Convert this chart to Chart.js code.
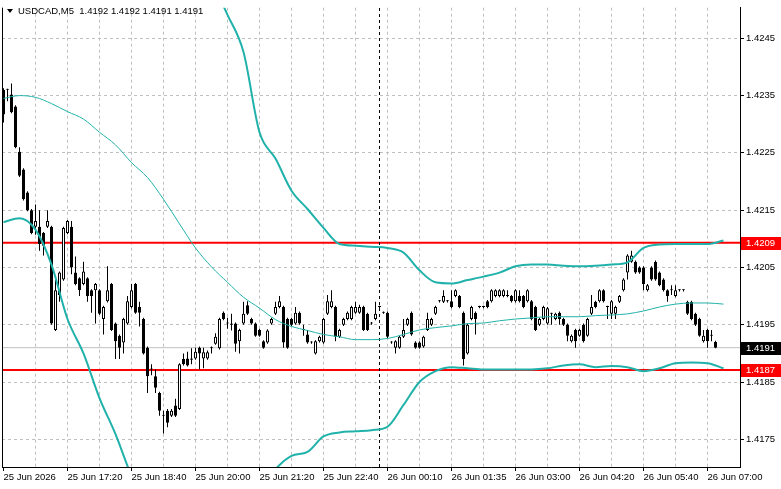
<!DOCTYPE html>
<html>
<head>
<meta charset="utf-8">
<script src="https://cdn.jsdelivr.net/npm/chart.js@4.4.1/dist/chart.umd.min.js"></script>
<style>
  html, body { margin: 0; padding: 0; background: #fff; }
  canvas { display: block; }
</style>
</head>
<body>
<canvas id="chart" width="781" height="489"></canvas>
<script>
// USDCAD M5, one entry per bar (bar 0 = 25 Jun 16:00)
const symbol = "USDCAD,M5";

const opens = [
  1.42360, 1.42360, 1.42352, 1.42331, 1.42252, 1.42221, 1.42181, 1.42150, 1.42121, 1.42121,
  1.42110, 1.42121, 1.42121, 1.41941, 1.42002, 1.42029, 1.42110, 1.42121, 1.42041, 1.42031,
  1.42021, 1.42031, 1.42010, 1.42010, 1.42010, 1.41960, 1.41991, 1.42021, 1.41952, 1.41931,
  1.41919, 1.41952, 1.41981, 1.42021, 1.41981, 1.41960, 1.41910, 1.41872, 1.41860, 1.41831,
  1.41791, 1.41800, 1.41791, 1.41809, 1.41803, 1.41890, 1.41891, 1.41889, 1.41891, 1.41910,
  1.41891, 1.41891, 1.41909, 1.41917, 1.41909, 1.41971, 1.41952, 1.41950, 1.41952, 1.41921,
  1.41952, 1.41984, 1.41960, 1.41952, 1.41941, 1.41921, 1.41919, 1.41952, 1.41969, 1.41981,
  1.41981, 1.41960, 1.41960, 1.41952, 1.41971, 1.41941, 1.41933, 1.41919, 1.41900, 1.41921,
  1.41919, 1.41969, 1.41981, 1.41981, 1.41929, 1.41950, 1.41960, 1.41960, 1.41971, 1.41971,
  1.41981, 1.41969, 1.41952, 1.41960, 1.41981, 1.41971, 1.41971, 1.41919, 1.41910, 1.41910,
  1.41929, 1.41950, 1.41971, 1.41919, 1.41919, 1.41912, 1.41941, 1.41950, 1.41969, 1.41991,
  1.41990, 1.41991, 1.41991, 1.42000, 1.42000, 1.41971, 1.41900, 1.41960, 1.41971, 1.41981,
  1.41981, 1.41991, 1.41991, 1.42000, 1.42000, 1.42000, 1.42000, 1.42000, 1.41991, 1.42000,
  1.42000, 1.41991, 1.41991, 1.41981, 1.41950, 1.41960, 1.41952, 1.41969, 1.41960, 1.41971,
  1.41960, 1.41950, 1.41921, 1.41941, 1.41931, 1.41950, 1.41931, 1.41969, 1.41990, 1.41991,
  1.42010, 1.41981, 1.41969, 1.41969, 1.41990, 1.42010, 1.42041, 1.42060, 1.42060, 1.42050,
  1.42050, 1.42010, 1.42050, 1.42060, 1.42041, 1.42029, 1.42010, 1.42010, 1.42000, 1.42010,
  1.42010, 1.41990, 1.41990, 1.41969, 1.41960, 1.41921, 1.41941, 1.41931, 1.41920
];
const highs = [
  1.42363, 1.42362, 1.42371, 1.42333, 1.42260, 1.42223, 1.42183, 1.42152, 1.42160, 1.42150,
  1.42112, 1.42150, 1.42123, 1.42033, 1.42043, 1.42121, 1.42133, 1.42131, 1.42069, 1.42033,
  1.42060, 1.42033, 1.42012, 1.42023, 1.42012, 1.41983, 1.42052, 1.42023, 1.41954, 1.41933,
  1.41962, 1.42000, 1.42021, 1.42023, 1.41990, 1.41962, 1.41912, 1.41881, 1.41872, 1.41833,
  1.41800, 1.41803, 1.41803, 1.41821, 1.41883, 1.41900, 1.41903, 1.41909, 1.41910, 1.41912,
  1.41910, 1.41905, 1.41912, 1.41935, 1.41962, 1.41973, 1.41962, 1.41969, 1.41954, 1.41943,
  1.41990, 1.41991, 1.41962, 1.41954, 1.41943, 1.41923, 1.41942, 1.41962, 1.41990, 1.42000,
  1.41983, 1.41962, 1.41962, 1.41981, 1.41973, 1.41950, 1.41941, 1.41921, 1.41923, 1.41931,
  1.41962, 1.42002, 1.42010, 1.41983, 1.41943, 1.41962, 1.41973, 1.41983, 1.41990, 1.41985,
  1.41983, 1.41971, 1.41955, 1.41990, 1.41983, 1.41973, 1.41973, 1.41921, 1.41923, 1.41931,
  1.41960, 1.41962, 1.41973, 1.41921, 1.41921, 1.41931, 1.41971, 1.41962, 1.41983, 1.41993,
  1.42010, 1.41993, 1.42010, 1.42012, 1.42002, 1.41973, 1.41952, 1.41983, 1.41973, 1.41983,
  1.41983, 1.41993, 1.42012, 1.42012, 1.42012, 1.42012, 1.42010, 1.42002, 1.42012, 1.42010,
  1.42002, 1.42012, 1.41993, 1.41983, 1.41962, 1.41983, 1.41981, 1.41971, 1.41971, 1.41973,
  1.41962, 1.41952, 1.41933, 1.41943, 1.41943, 1.41952, 1.41962, 1.42002, 1.41992, 1.42012,
  1.42012, 1.41983, 1.41993, 1.41983, 1.42002, 1.42031, 1.42073, 1.42079, 1.42062, 1.42052,
  1.42052, 1.42021, 1.42052, 1.42062, 1.42043, 1.42031, 1.42012, 1.42019, 1.42019, 1.42012,
  1.42012, 1.41992, 1.41992, 1.41971, 1.41962, 1.41941, 1.41943, 1.41941, 1.41922
];
const lows = [
  1.42303, 1.42340, 1.42319, 1.42258, 1.42208, 1.42167, 1.42148, 1.42108, 1.42107, 1.42079,
  1.42071, 1.42119, 1.41950, 1.41939, 1.41990, 1.42027, 1.42108, 1.42038, 1.42019, 1.42000,
  1.42019, 1.41990, 1.41971, 1.41952, 1.41967, 1.41933, 1.41989, 1.41939, 1.41890, 1.41890,
  1.41900, 1.41950, 1.41979, 1.41969, 1.41947, 1.41898, 1.41831, 1.41862, 1.41831, 1.41791,
  1.41760, 1.41771, 1.41789, 1.41789, 1.41801, 1.41879, 1.41877, 1.41881, 1.41889, 1.41872,
  1.41874, 1.41889, 1.41900, 1.41915, 1.41907, 1.41958, 1.41943, 1.41940, 1.41903, 1.41900,
  1.41950, 1.41967, 1.41950, 1.41929, 1.41929, 1.41908, 1.41917, 1.41950, 1.41967, 1.41979,
  1.41910, 1.41908, 1.41948, 1.41950, 1.41950, 1.41931, 1.41917, 1.41917, 1.41898, 1.41919,
  1.41917, 1.41967, 1.41979, 1.41921, 1.41927, 1.41948, 1.41958, 1.41958, 1.41969, 1.41969,
  1.41939, 1.41939, 1.41950, 1.41958, 1.41979, 1.41969, 1.41927, 1.41917, 1.41900, 1.41908,
  1.41927, 1.41948, 1.41931, 1.41908, 1.41908, 1.41910, 1.41939, 1.41948, 1.41967, 1.41989,
  1.41988, 1.41989, 1.41979, 1.41998, 1.41979, 1.41879, 1.41898, 1.41958, 1.41933, 1.41979,
  1.41979, 1.41979, 1.41989, 1.41998, 1.41998, 1.41998, 1.41998, 1.41989, 1.41989, 1.41989,
  1.41979, 1.41989, 1.41958, 1.41939, 1.41948, 1.41958, 1.41950, 1.41950, 1.41958, 1.41950,
  1.41948, 1.41921, 1.41919, 1.41910, 1.41929, 1.41919, 1.41929, 1.41967, 1.41979, 1.41989,
  1.41989, 1.41960, 1.41960, 1.41960, 1.41988, 1.42008, 1.42029, 1.42058, 1.42039, 1.42039,
  1.42010, 1.42008, 1.42027, 1.42027, 1.42017, 1.42008, 1.41990, 1.42002, 1.41998, 1.42008,
  1.42008, 1.41967, 1.41958, 1.41948, 1.41929, 1.41919, 1.41910, 1.41921, 1.41909
];
const closes = [
  1.42317, 1.42360, 1.42321, 1.42260, 1.42210, 1.42169, 1.42150, 1.42110, 1.42131, 1.42091,
  1.42088, 1.42131, 1.41952, 1.42010, 1.42041, 1.42119, 1.42131, 1.42050, 1.42021, 1.42010,
  1.42043, 1.42000, 1.42000, 1.42021, 1.41969, 1.41981, 1.42010, 1.41941, 1.41921, 1.41910,
  1.41960, 1.41991, 1.42010, 1.41971, 1.41971, 1.41900, 1.41860, 1.41872, 1.41840, 1.41800,
  1.41791, 1.41779, 1.41800, 1.41791, 1.41881, 1.41881, 1.41879, 1.41891, 1.41903, 1.41900,
  1.41902, 1.41902, 1.41909, 1.41929, 1.41960, 1.41960, 1.41952, 1.41952, 1.41917, 1.41941,
  1.41969, 1.41969, 1.41952, 1.41931, 1.41931, 1.41910, 1.41940, 1.41960, 1.41981, 1.41991,
  1.41919, 1.41910, 1.41950, 1.41971, 1.41952, 1.41941, 1.41919, 1.41919, 1.41921, 1.41929,
  1.41960, 1.41991, 1.41991, 1.41929, 1.41941, 1.41960, 1.41971, 1.41981, 1.41981, 1.41981,
  1.41941, 1.41941, 1.41952, 1.41969, 1.41981, 1.41971, 1.41929, 1.41919, 1.41921, 1.41929,
  1.41941, 1.41960, 1.41933, 1.41910, 1.41910, 1.41929, 1.41960, 1.41960, 1.41981, 1.41991,
  1.42000, 1.41991, 1.41981, 1.42010, 1.41981, 1.41890, 1.41950, 1.41981, 1.41960, 1.41981,
  1.41981, 1.41981, 1.42010, 1.42010, 1.42010, 1.42010, 1.42000, 1.41991, 1.42010, 1.41991,
  1.41981, 1.42010, 1.41960, 1.41941, 1.41960, 1.41981, 1.41979, 1.41969, 1.41969, 1.41960,
  1.41950, 1.41931, 1.41931, 1.41921, 1.41941, 1.41921, 1.41960, 1.41981, 1.41981, 1.42010,
  1.41991, 1.41981, 1.41991, 1.41981, 1.42000, 1.42029, 1.42071, 1.42071, 1.42041, 1.42041,
  1.42021, 1.42019, 1.42029, 1.42029, 1.42019, 1.42010, 1.42000, 1.42010, 1.42010, 1.42010,
  1.42010, 1.41969, 1.41960, 1.41950, 1.41931, 1.41931, 1.41921, 1.41931, 1.41910
];

// indicator lines
const bandBars = [
  0, 4, 8, 12, 16, 20, 24, 28, 32, 36, 40, 44, 48, 52, 56, 60, 64, 68, 72, 76, 80, 84, 88,
  92, 96, 100, 104, 108, 112, 116, 120, 124, 128, 132, 136, 140, 144, 148, 152, 156, 160,
  164, 168, 172, 176, 180
];
const bandUpper = [
  null, null, null, null, null, null, null, null, null, null, null, null,
  1.42610, 1.42550, 1.42491, 1.42426, 1.42286, 1.42240, 1.42184, 1.42152, 1.42119, 1.42091,
  1.42088, 1.42086, 1.42084, 1.42076, 1.42045, 1.42024, 1.42022, 1.42028, 1.42034, 1.42041,
  1.42052, 1.42055, 1.42055, 1.42053, 1.42052, 1.42053, 1.42055, 1.42059, 1.42084, 1.42090,
  1.42091, 1.42091, 1.42091, 1.42097
];
const bandMiddle = [
  1.42345, 1.42350, 1.42347, 1.42336, 1.42322, 1.42309, 1.42286, 1.42264, 1.42233, 1.42207,
  1.42169, 1.42126, 1.42084, 1.42051, 1.42024, 1.41998, 1.41979, 1.41959, 1.41947, 1.41940,
  1.41933, 1.41929, 1.41924, 1.41924, 1.41926, 1.41933, 1.41941, 1.41945, 1.41948, 1.41952,
  1.41953, 1.41957, 1.41960, 1.41962, 1.41964, 1.41964, 1.41964, 1.41966, 1.41967, 1.41969,
  1.41974, 1.41981, 1.41986, 1.41988, 1.41988, 1.41986
];
const bandLower = [
  1.42129, 1.42136, 1.42116, 1.42055, 1.41960, 1.41900, 1.41822, 1.41759, 1.41686, 1.41630,
  1.41590, 1.41560, 1.41550, 1.41560, 1.41590, 1.41630, 1.41662, 1.41698, 1.41721, 1.41728,
  1.41755, 1.41762, 1.41764, 1.41766, 1.41772, 1.41810, 1.41850, 1.41869, 1.41876, 1.41874,
  1.41872, 1.41872, 1.41872, 1.41872, 1.41874, 1.41879, 1.41881, 1.41876, 1.41878, 1.41876,
  1.41869, 1.41874, 1.41883, 1.41884, 1.41883, 1.41874
];

const levels = [1.42093, 1.41871];
const yTicks = [1.4175, 1.4185, 1.4195, 1.4205, 1.4215, 1.4225, 1.4235, 1.4245];
const timeLabels = [
  "25 Jun 2026", "25 Jun 17:20", "25 Jun 18:40", "25 Jun 20:00", "25 Jun 21:20", "25 Jun 22:40",
  "26 Jun 00:10", "26 Jun 01:35", "26 Jun 03:00", "26 Jun 04:20", "26 Jun 05:40", "26 Jun 07:00"
];
const labelBars = [0, 16, 32, 48, 64, 80, 96, 112, 128, 144, 160, 176];
const separatorBar = 94;

const yMin = 1.417017, yMax = 1.425034;
const xMin = -0.375, xMax = 184.125;
const FONT = '"Liberation Sans", Arial, sans-serif';
const TEAL = "#20b2aa";

const wickData = opens.map((o, i) => ({ x: i, y: [lows[i], highs[i]] }));
const bodyData = opens.map((o, i) => ({ x: i, y: [o, closes[i]] }));
const bodyColors = opens.map((o, i) => (closes[i] > o ? "#ffffff" : "#000000"));
const bandLine = (vals) => bandBars.map((b, k) => ({ x: b, y: vals[k] }));

const gridBars = [];
for (let b = 0; b <= 176; b += 8) gridBars.push(b);

const lastClose = closes[closes.length - 1];
const tags = [
  { value: levels[0], bg: "#ff0000" },
  { value: lastClose, bg: "#000000" },
  { value: levels[1], bg: "#ff0000" }
];

const chartExtras = {
  id: "chartExtras",
  afterDraw(chart) {
    const c = chart.ctx;
    const a = chart.chartArea;
    const ys = chart.scales.y;
    c.save();
    // left frame line
    c.strokeStyle = "#000";
    c.lineWidth = 1;
    c.beginPath();
    c.moveTo(a.left + 0.5, a.top);
    c.lineTo(a.left + 0.5, a.bottom);
    c.stroke();

    // price tags on the right axis
    c.font = "9.5px " + FONT;
    c.textBaseline = "middle";
    c.textAlign = "left";
    tags.forEach((t) => {
      const py = Math.round(ys.getPixelForValue(t.value));
      c.fillStyle = t.bg;
      c.fillRect(a.right + 1, py - 6, chart.width - a.right - 1, 13);
      c.fillStyle = "#fff";
      c.fillText(t.value.toFixed(4), a.right + 6, py + 0.5);
    });

    // header: symbol + OHLC of last bar
    const n = closes.length - 1;
    c.fillStyle = "#000";
    c.beginPath();
    c.moveTo(7, 9);
    c.lineTo(13, 9);
    c.lineTo(10, 13);
    c.closePath();
    c.fill();
    const txt = symbol + "  " + [opens[n], highs[n], lows[n], closes[n]].map((v) => v.toFixed(4)).join(" ");
    c.fillText(txt, 18, 11);
    c.restore();
  }
};

const ctx = document.getElementById("chart").getContext("2d");
new Chart(ctx, {
  type: "bar",
  data: {
    datasets: [
      {
        type: "line",
        data: [{ x: xMin, y: levels[0] }, { x: xMax, y: levels[0] }],
        borderColor: "#ff0000",
        borderWidth: 2,
        pointRadius: 0,
        order: 6
      },
      {
        type: "line",
        data: [{ x: xMin, y: levels[1] }, { x: xMax, y: levels[1] }],
        borderColor: "#ff0000",
        borderWidth: 2,
        pointRadius: 0,
        order: 6
      },
      {
        type: "line",
        data: [{ x: xMin, y: lastClose }, { x: xMax, y: lastClose }],
        borderColor: "#c0c0c0",
        borderWidth: 1,
        pointRadius: 0,
        order: 7
      },
      {
        type: "line",
        data: [{ x: separatorBar, y: yMin }, { x: separatorBar, y: yMax }],
        borderColor: "#000",
        borderWidth: 1,
        borderDash: [3, 3],
        pointRadius: 0,
        order: 5
      },
      {
        label: "wicks",
        data: wickData,
        backgroundColor: "#000",
        borderWidth: 0,
        barThickness: 1,
        grouped: false,
        inflateAmount: 0,
        order: 2
      },
      {
        label: "bodies",
        data: bodyData,
        backgroundColor: bodyColors,
        borderColor: "#000",
        borderWidth: 1,
        borderSkipped: false,
        barThickness: 3,
        grouped: false,
        inflateAmount: 0,
        minBarLength: 1,
        order: 1
      },
      {
        type: "line",
        data: bandLine(bandUpper),
        borderColor: TEAL,
        borderWidth: 2,
        pointRadius: 0,
        cubicInterpolationMode: "monotone",
        order: 0
      },
      {
        type: "line",
        data: bandLine(bandLower),
        borderColor: TEAL,
        borderWidth: 2,
        pointRadius: 0,
        cubicInterpolationMode: "monotone",
        order: 0
      },
      {
        type: "line",
        data: bandLine(bandMiddle),
        borderColor: TEAL,
        borderWidth: 1,
        pointRadius: 0,
        cubicInterpolationMode: "monotone",
        order: 0
      }
    ]
  },
  options: {
    responsive: false,
    animation: false,
    layout: { padding: { left: 2, top: 2, right: 0, bottom: 0 } },
    plugins: {
      legend: { display: false },
      tooltip: { enabled: false }
    },
    scales: {
      x: {
        type: "linear",
        min: xMin,
        max: xMax,
        offset: false,
        afterBuildTicks: (scale) => {
          scale.ticks = gridBars.map((v) => ({ value: v }));
        },
        afterFit: (scale) => {
          scale.height = 22;
        },
        grid: {
          offset: false,
          color: (c) => (c.tick && c.tick.value === 0 ? "rgba(0,0,0,0)" : "#c0c0c0"),
          tickColor: (c) => (c.tick && labelBars.includes(c.tick.value) ? "#000" : "rgba(0,0,0,0)"),
          tickLength: 4,
          lineWidth: 1
        },
        border: { display: true, color: "#000", width: 1, dash: [3, 3] },
        ticks: {
          autoSkip: false,
          maxRotation: 0,
          minRotation: 0,
          align: "start",
          padding: 1,
          color: "#000",
          font: { family: FONT, size: 9.5 },
          callback: (v) => {
            const k = labelBars.indexOf(v);
            return k >= 0 ? timeLabels[k] : "";
          }
        }
      },
      y: {
        type: "linear",
        position: "right",
        min: yMin,
        max: yMax,
        afterBuildTicks: (scale) => {
          scale.ticks = yTicks.map((v) => ({ value: v }));
        },
        afterFit: (scale) => {
          scale.width = 41;
        },
        grid: {
          color: "#c0c0c0",
          tickColor: "#000",
          tickLength: 4,
          lineWidth: 1
        },
        border: { display: true, color: "#000", width: 1, dash: [3, 3] },
        ticks: {
          padding: 2,
          color: "#000",
          font: { family: FONT, size: 9.5 },
          callback: (v) => Number(v).toFixed(4)
        }
      }
    }
  },
  plugins: [chartExtras]
});
</script>
</body>
</html>
